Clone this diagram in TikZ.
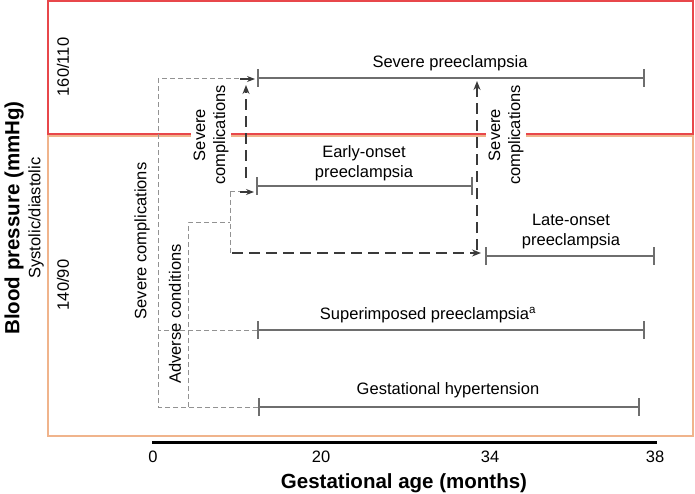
\documentclass[tikz,border=0pt]{standalone}
\usepackage{fontspec}
\setmainfont{Liberation Sans}
\usetikzlibrary{arrows.meta}
\definecolor{boxred}{HTML}{E8474B}
\definecolor{boxorange}{HTML}{F0B48C}
\definecolor{bargray}{HTML}{6E6E6E}
\definecolor{dashgray}{HTML}{929292}
\definecolor{darkdash}{HTML}{3A3A3A}
\begin{document}
\begin{tikzpicture}[x=1pt,y=-1pt,
  lbl/.style={font=\fontsize{16.5}{20}\selectfont, text=black, inner sep=0pt, align=center},
  ttl/.style={font=\fontsize{20.5}{24}\selectfont\bfseries, text=black, inner sep=0pt},
  bar/.style={draw=bargray, line width=1.6pt, arrows={Bar[width=18pt]-Bar[width=18pt]}},
  thindash/.style={draw=dashgray, line width=1pt, dash pattern=on 5pt off 3pt},
  darkarrow/.style={draw=darkdash, line width=1.2pt, -{Stealth[length=8pt,width=6pt]}},
  bigdash/.style={draw=darkdash, line width=1.8pt, dash pattern=on 11pt off 6pt, -{Stealth[length=9pt,width=7pt]}},
]
\useasboundingbox (0,0) rectangle (695,494);
% boxes
\draw[boxorange, line width=2pt] (48,136.5) rectangle (693,436);
\draw[boxred, line width=2pt] (48,1) rectangle (693,134.5);

% bar end coordinates
\coordinate (spA) at (257,78);  \coordinate (spB) at (645,78);
\coordinate (eoA) at (256,186); \coordinate (eoB) at (473,186);
\coordinate (loA) at (485,256); \coordinate (loB) at (655,256);
\coordinate (siA) at (257,330); \coordinate (siB) at (645,330);
\coordinate (ghA) at (258,407); \coordinate (ghB) at (640,407);

% bars
\draw[bar] (spA) -- (spB);
\draw[bar] (eoA) -- (eoB);
\draw[bar] (loA) -- (loB);
\draw[bar] (siA) -- (siB);
\draw[bar] (ghA) -- (ghB);

% bar labels
\node[lbl] (spL) at (450,63) {Severe preeclampsia};
\node[lbl] (eoL) at (364,163) {Early-onset\\preeclampsia};
\node[lbl] (loL) at (571,232) {Late-onset\\preeclampsia};
\node[lbl] (siL) at (428,315) {Superimposed preeclampsia\textsuperscript{a}};
\node[lbl] (ghL) at (448,390) {Gestational hypertension};

% connector corners
\coordinate (c1) at (158,407);
\coordinate (c2) at (158,79);
\coordinate (c3) at (240,79);
\coordinate (c3e) at (255,79);
\coordinate (c4) at (158,330);
\coordinate (a1) at (188,407);
\coordinate (a2) at (188,223);
\coordinate (a3) at (230,223);
\coordinate (a4) at (230,192);
\coordinate (a5) at (230,253);
\coordinate (a6) at (240,192);
\coordinate (a6e) at (254,192);
\coordinate (d1) at (232,253);
\coordinate (d1e) at (481,253);
\coordinate (v1) at (246,178);
\coordinate (v1e) at (246,85);
\coordinate (v2) at (477,250);
\coordinate (v2e) at (477,81);

% gray dashed connectors
\draw[thindash] (ghA) -- (c1) -- (c2) -- (c3);
\draw[darkarrow] (c3) -- (c3e);
\draw[thindash] (siA) -- (c4);
\draw[thindash] (a1) -- (a2) -- (a3);
\draw[thindash] (a4) -- (a5);
\draw[thindash] (a4) -- (a6);
\draw[darkarrow] (a6) -- (a6e);

% dark dashed arrows
\draw[bigdash] (d1) -- (d1e);
\draw[bigdash] (v1) -- (v1e);
\draw[bigdash] (v2) -- (v2e);

% rotated labels
\node[lbl, rotate=90] (sc1) at (142,241) {Severe complications};
\node[lbl, rotate=90] (adv) at (175,314) {Adverse conditions};
\node[lbl, rotate=90, fill=white, inner xsep=3pt, inner ysep=3pt] (sc2) at (211,135) {Severe\\complications};
\node[lbl, rotate=90, fill=white, inner xsep=3pt, inner ysep=3pt] (sc3) at (506,135) {Severe\\complications};

\node[lbl, rotate=90] (bp1) at (63,67) {160/110};
\node[lbl, rotate=90] (bp2) at (63,285) {140/90};
\node[ttl, rotate=90] (ytitle) at (14,218) {Blood pressure (mmHg)};
\node[lbl, rotate=90] (ysub) at (36,218) {Systolic/diastolic};

% x axis
\coordinate (ax0) at (152,442);
\coordinate (ax1) at (657,442);
\draw[black, line width=3pt] (ax0) -- (ax1);
\node[lbl] (t0) at (153,457) {0};
\node[lbl] (t20) at (321,457) {20};
\node[lbl] (t34) at (490,457) {34};
\node[lbl] (t38) at (655,457) {38};
\node[ttl] (xtitle) at (404,483) {Gestational age (months)};
\end{tikzpicture}
\end{document}
